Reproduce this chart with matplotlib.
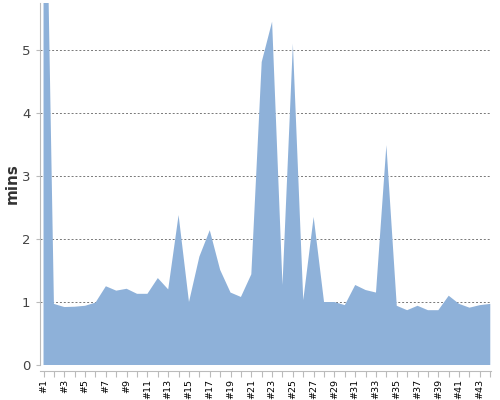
import matplotlib
matplotlib.use("Agg")
import matplotlib.pyplot as plt
import numpy as np

# run durations per build, in minutes
labels = ["#%d" % i for i in range(1, 45)]
mins = [10.4, 0.97, 0.92, 0.925, 0.94, 0.99, 1.25, 1.18, 1.21, 1.13,
        1.13, 1.38, 1.20, 2.38, 1.0, 1.72, 2.14, 1.51, 1.15, 1.08,
        1.44, 4.81, 5.45, 1.27, 5.1, 1.03, 2.35, 1.0, 1.0, 0.95,
        1.27, 1.19, 1.15, 3.49, 0.94, 0.87, 0.94, 0.87, 0.87, 1.10,
        0.97, 0.91, 0.95, 0.97]
yticks = [0, 1, 2, 3, 4, 5]

fig = plt.figure(figsize=(5, 4), dpi=100)
ax = fig.add_axes([0.08, 0.0875, 0.902, 0.905])

x = np.arange(len(mins))
ax.fill_between(x, 0, mins, color="#8eb1d9", linewidth=0)

ax.set_xlim(-0.34, 43.07)
ax.set_ylim(0, 5.746)

ax.set_yticks(yticks)
for v in yticks[1:]:
    ax.axhline(v, color="#777777", linestyle=(0, (2, 2)), linewidth=0.7, zorder=0)

ax.set_xticks(x)
ax.set_xticklabels([l if i % 2 == 0 else "" for i, l in enumerate(labels)])
ax.tick_params(axis="x", length=4, color="#bbbbbb", pad=2, labelrotation=90,
               labelsize=6.8, labelcolor="#000000")
ax.tick_params(axis="y", length=3, color="#bbbbbb", labelsize=9.5,
               labelcolor="#444444", pad=4)

for s in ["top", "right"]:
    ax.spines[s].set_visible(False)
ax.spines["left"].set_color("#bbbbbb")
ax.spines["bottom"].set_color("#bbbbbb")
ax.spines["bottom"].set_position(("outward", 4))

ax.set_ylabel("mins", fontsize=11, color="#333333", fontweight="bold")
ax.yaxis.set_label_coords(-0.046, 0.5)

fig.savefig("out.png", dpi=100)
